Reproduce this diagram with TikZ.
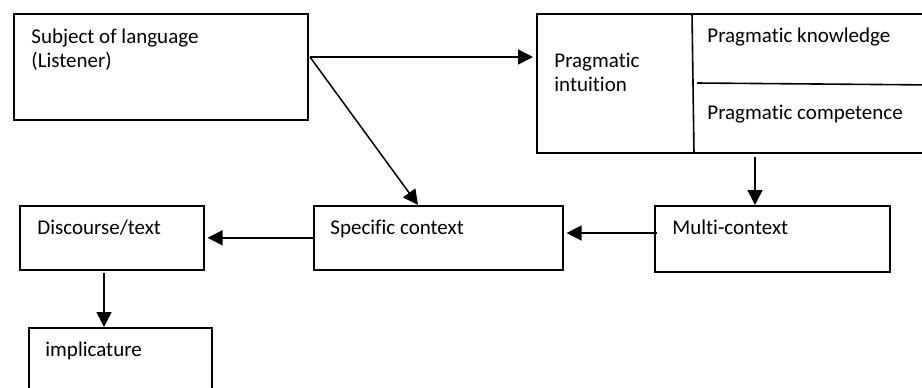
\documentclass[tikz,border=0pt]{standalone}
\usepackage{fontspec}
\setmainfont{Carlito}[Ligatures={NoCommon}]
\usepackage{tikz}
\usetikzlibrary{positioning,calc,arrows.meta}
\tikzset{
	box/.style={draw, line width=0.8pt, inner sep=0pt, anchor=north west},
	txt/.style={anchor=base west, inner sep=0pt, align=left, font=\fontsize{10.5}{12}\selectfont},
	link/.style={draw, line width=0.75pt, -{Triangle[length=7.5pt,width=7.5pt]}}
}
\newcommand{\ctxbox}[5][]
{
	% corner at (#2,#3), size #4 x #5 in pixel steps
	\node [box, minimum width=#4*0.5pt, minimum height=#5*0.5pt] (#1) at (#2, #3) {};
}
\newcommand{\ctxtext}[4][]{
	\node [txt] (#1) at (#2, #3) {#4};
}
\newcommand{\ctxlink}[3][]{
	\path [link, #1] (#2) -- (#3);
}

\begin{document}
\begin{tikzpicture}[x=0.5pt, y=-0.5pt]
		\useasboundingbox (0,0) rectangle (922,387);
		\ctxbox[subj]{13}{13}{294}{106}
		\ctxbox[prag]{536}{13}{400}{139}
		\ctxbox[spec]{313}{205}{249}{64}
		\ctxbox[multi]{654}{205}{235}{66}
		\ctxbox[disc]{19}{205}{184}{64}
		\ctxbox[impl]{28}{327}{183}{90}
		
		% split inside the pragmatic box
		\draw [line width=0.8pt] ($(prag.north west)+(156,0)$) -- ($(prag.south west)+(158,0)$);
		\draw [line width=0.8pt] ($(prag.north west)+(161,70)$) -- ($(prag.north east)+(0,72)$);
		
		% the base of a two-line text is its last line
		\ctxtext[subjtxt]{31}{67}{Subject of language\\(Listener)}
		\ctxtext[intuit]{554}{91}{Pragmatic\\intuition}
		\ctxtext[know]{707}{42}{Pragmatic knowledge}
		\ctxtext[comp]{707}{119}{Pragmatic competence}
		\ctxtext[disctxt]{37}{234}{Discourse/text}
		\ctxtext[spectxt]{330}{234}{Specific context}
		\ctxtext[multitxt]{672}{234}{Multi-context}
		\ctxtext[impltxt]{45}{356}{implicature}
		
		\coordinate (fork) at (310,57);
		\coordinate (pragout) at (755,157);
		\coordinate (multiout) at (657,233);
		\coordinate (discout) at (104,273);
		
		\ctxlink[shorten >=1.5pt]{fork}{prag.west |- fork}
		\ctxlink{fork}{$(spec.north west)+(105,0)$}
		\ctxlink{pragout}{pragout |- multi.north}
		\ctxlink[shorten >=1.5pt]{multiout}{spec.east |- multiout}
		\ctxlink[shorten >=1.5pt]{spec.west}{disc.east}
		\ctxlink{discout}{discout |- impl.north}
\end{tikzpicture}
\end{document}
